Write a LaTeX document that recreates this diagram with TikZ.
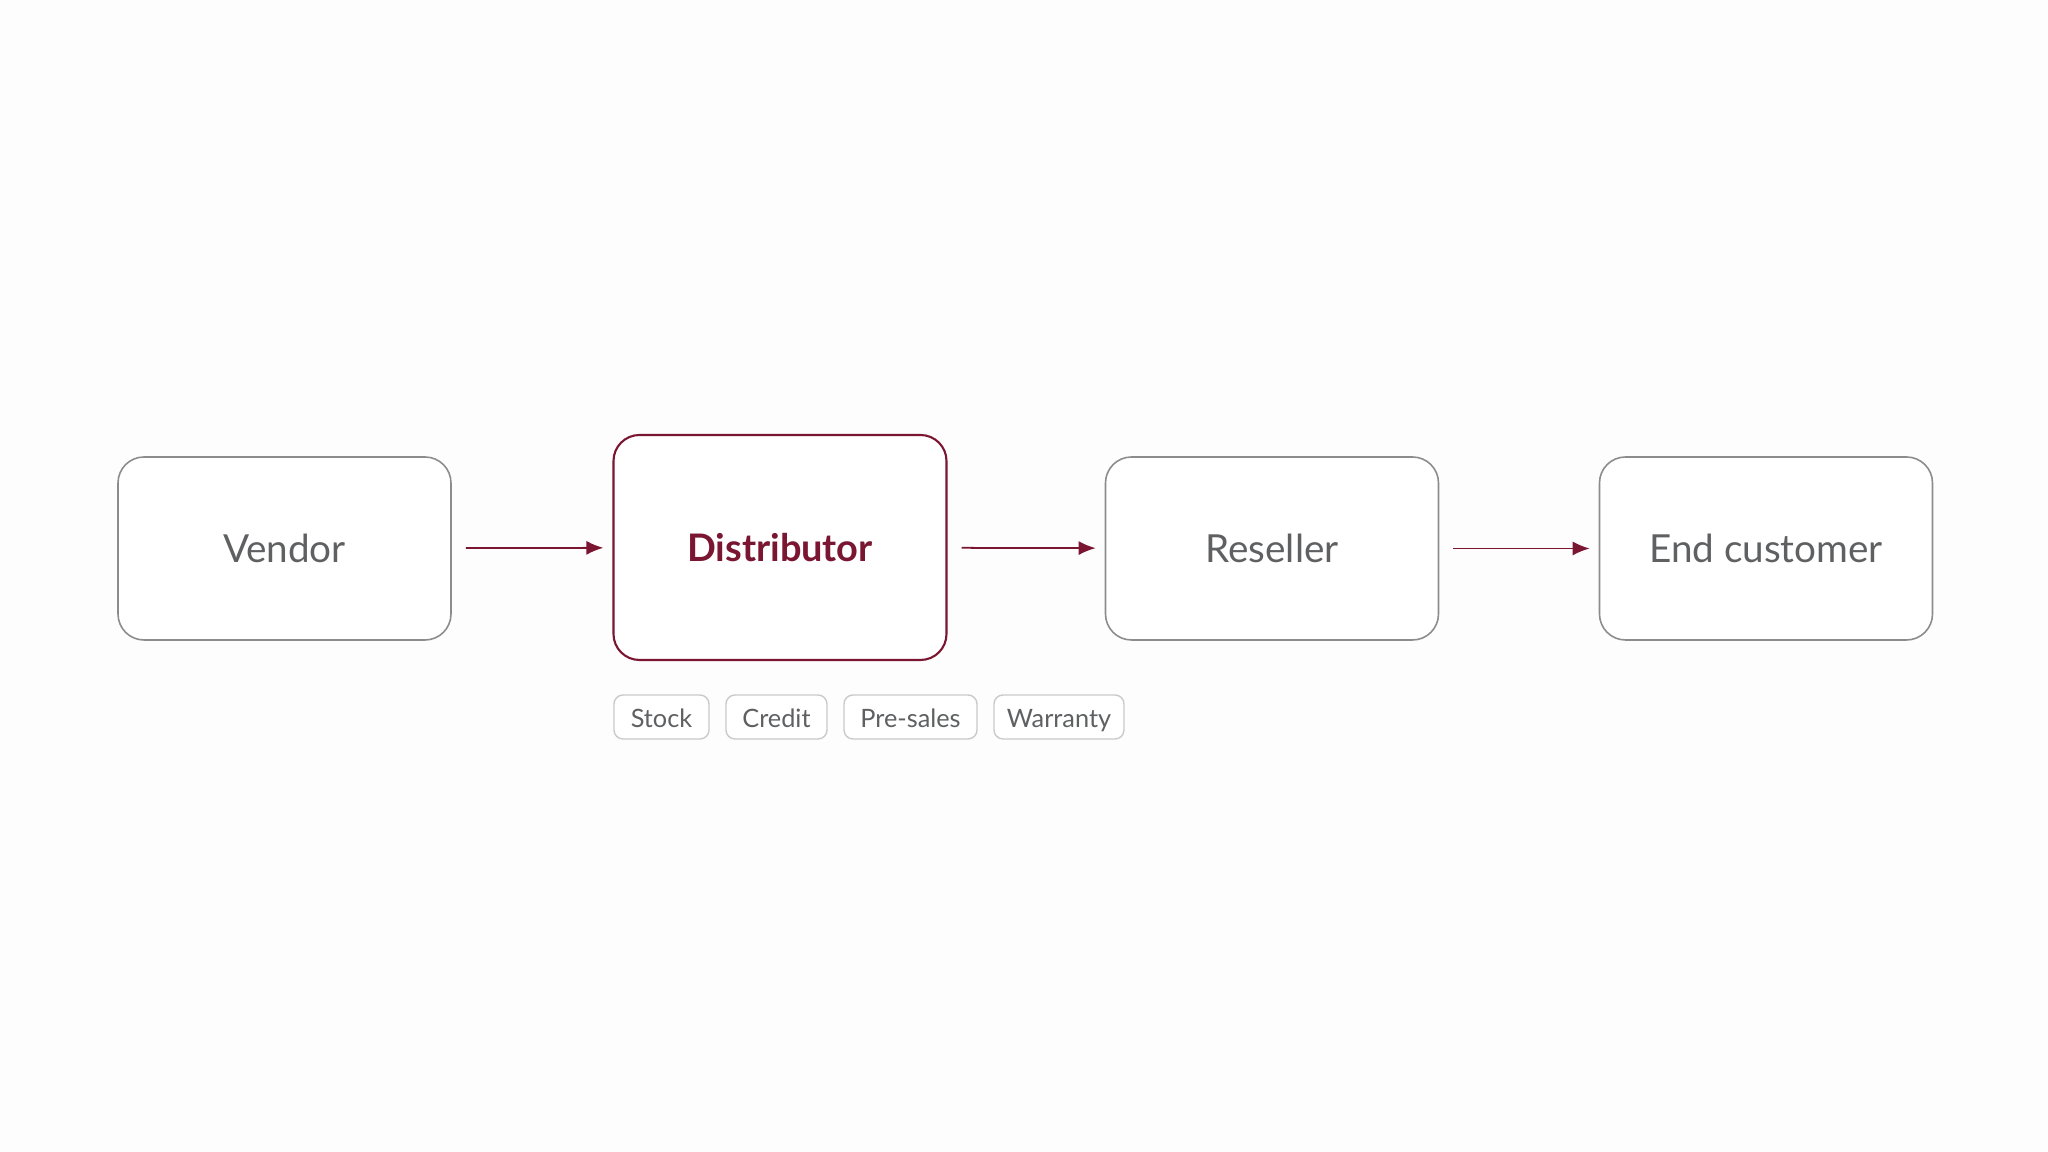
\documentclass[tikz,border=0pt]{standalone}
\usepackage{fontspec}
\setmainfont{Lato}
\usepackage{xcolor}
\definecolor{boxgray}{HTML}{8C8C8C}
\definecolor{textgray}{HTML}{5F6062}
\definecolor{maroon}{HTML}{7A1631}
\definecolor{taggray}{HTML}{CACACA}
\definecolor{paper}{HTML}{FDFDFD}
\usetikzlibrary{arrows.meta}

\begin{document}
\begin{tikzpicture}[
    stage/.style={draw=boxgray, line width=0.45pt, rounded corners=0.26cm, fill=white,
        minimum width=3.33cm, minimum height=1.83cm, text=textgray,
        font=\fontsize{11}{13}\selectfont},
    focus/.style={stage, draw=maroon, line width=0.6pt, minimum height=2.25cm,
        text=maroon, font=\fontsize{10.8}{13}\selectfont\bfseries},
    tag/.style={draw=taggray, line width=0.4pt, rounded corners=0.09cm, fill=white,
        minimum height=0.44cm, text=textgray, inner xsep=0.1cm, inner ysep=0pt,
        text height=1.6ex, text depth=0.45ex,
        font=\fontsize{7.2}{8}\selectfont},
    flow/.style={draw=maroon, line width=0.5pt, -{Latex[length=0.17cm,width=0.14cm]},
        shorten <=0.14cm, shorten >=0.09cm}
]
        \fill[paper] (0,0) rectangle (20.48,11.52);
        \useasboundingbox (0,0) rectangle (20.48,11.52);

        \node[stage] (V) at (2.845,6.035) {Vendor};
        \node[focus] (D) at (7.80,6.045) {Distributor};
        \node[stage] (R) at (12.72,6.035) {Reseller};
        \node[stage] (E) at (17.66,6.035) {End customer};

        \node[tag, minimum width=0.95cm] (T1) at (6.615,4.35) {Stock};
        \node[tag, minimum width=1.01cm] (T2) at (7.765,4.35) {Credit};
        \node[tag, minimum width=1.33cm] (T3) at (9.105,4.35) {Pre-sales};
        \node[tag, minimum width=1.30cm] (T4) at (10.59,4.35) {Warranty};

            \draw[flow] (V) -- (D);
            \draw[flow] (D) -- (R);
            \draw[flow] (R) -- (E);

    \end{tikzpicture}
\end{document}
